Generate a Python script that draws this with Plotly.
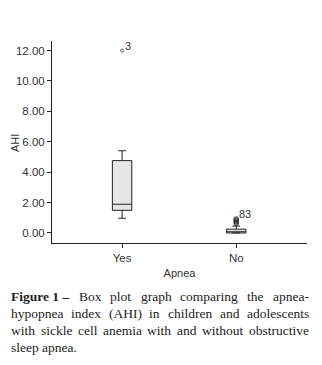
import plotly.graph_objects as go

# Summary statistics of AHI per apnea group
groups = ["Yes", "No"]
group_pos = [1, 2]
q1 = [1.49, 0.0]
median = [1.89, 0.08]
q3 = [4.76, 0.25]
lower_fence = [0.97, 0.0]
upper_fence = [5.41, 0.45]

# Outliers (value, group position, case label)
outlier_vals = [12.0, 0.62, 0.72, 0.82, 0.92]
outlier_pos = [1, 2, 2, 2, 2]
outlier_labels = ["3", "", "", "", "83"]

y_ticks = [0, 2, 4, 6, 8, 10, 12]
y_ticktext = ["0.00", "2.00", "4.00", "6.00", "8.00", "10.00", "12.00"]

caption_lines = [
    ["<b>Figure 1 –</b>", "Box", "plot", "graph", "comparing", "the", "apnea-"],
    ["hypopnea", "index", "(AHI)", "in", "children", "and", "adolescents"],
    ["with", "sickle", "cell", "anemia", "with", "and", "without", "obstructive"],
    ["sleep", "apnea."],
]

# Figure / margin geometry in pixels
W, H = 322, 365
ML, MR, MT, MB = 52, 15, 41, 122
PW, PH = W - ML - MR, H - MT - MB

# Approximate Times-style advance widths (per 1000 em) for justifying the caption
TW = {" ": 250, "a": 444, "b": 500, "c": 444, "d": 500, "e": 444, "f": 333, "g": 500,
      "h": 500, "i": 278, "j": 278, "k": 500, "l": 278, "m": 778, "n": 500, "o": 500,
      "p": 500, "q": 500, "r": 333, "s": 389, "t": 278, "u": 500, "v": 500, "w": 722,
      "x": 500, "y": 500, "z": 444, "A": 722, "B": 667, "F": 556, "H": 722, "I": 333,
      "(": 333, ")": 333, "-": 333, ".": 250, "1": 500, "–": 500}
BOLD = {"F": 611, "u": 556, "r": 444}


def word_width(word, size):
    bold = word.startswith("<b>")
    txt = word.replace("<b>", "").replace("</b>", "")
    total = 0
    for ch in txt:
        total += (BOLD.get(ch, TW.get(ch, 500)) if bold else TW.get(ch, 500))
    return total * size / 1000.0


fig = go.Figure()
fig.add_trace(go.Box(
    x=group_pos, q1=q1, median=median, q3=q3,
    lowerfence=lower_fence, upperfence=upper_fence,
    width=0.17, whiskerwidth=0.4,
    fillcolor="#e6e6e8", line=dict(color="#222222", width=1),
    boxpoints=False, hoverinfo="skip", showlegend=False,
))
fig.add_trace(go.Scatter(
    x=outlier_pos, y=outlier_vals, mode="markers",
    marker=dict(symbol="circle-open", size=[3, 4, 4, 4, 4], color="#222222",
                line=dict(width=[1, 1.5, 1.5, 1.5, 1.5])),
    showlegend=False, hoverinfo="skip",
))
for xv, yv, lab in zip(outlier_pos, outlier_vals, outlier_labels):
    if lab:
        fig.add_annotation(x=xv, y=yv, text=lab, showarrow=False,
                           xanchor="left", yanchor="bottom", xshift=1, yshift=-3,
                           font=dict(family="Liberation Sans", size=11, color="#333333"))

axis_font = dict(family="Liberation Sans", size=11, color="#333333")
tick_font = dict(family="Liberation Sans", size=11.5, color="#333333")
fig.update_xaxes(
    range=[0.386, 2.62], tickvals=group_pos, ticktext=groups,
    showline=True, linecolor="#222222", linewidth=1,
    ticks="outside", ticklen=4, tickcolor="#222222",
    showgrid=False, zeroline=False, tickfont=tick_font, automargin=False,
    title=dict(text="Apnea", font=axis_font, standoff=6),
)
fig.update_yaxes(
    range=[-0.66, 12.63], tickvals=y_ticks, ticktext=y_ticktext,
    showline=True, linecolor="#222222", linewidth=1,
    ticks="outside", ticklen=4, tickcolor="#222222",
    showgrid=False, zeroline=False, tickfont=tick_font, automargin=False,
)

# Vertical y-axis title
fig.add_annotation(
    xref="paper", yref="paper", x=(15 - ML) / PW, y=(H - MB - 143) / PH,
    xanchor="center", yanchor="middle", text="AHI", textangle=-90,
    showarrow=False, font=axis_font,
)

# Justified caption below the chart
cap_size = 13.5
cap_left, cap_right = 11, 309
line_y0, line_gap = 296, 17
cap_font = dict(family="Liberation Serif", size=cap_size, color="#222222")
for i, words in enumerate(caption_lines):
    widths = [word_width(w, cap_size) for w in words]
    last = i == len(caption_lines) - 1
    if last or len(words) == 1:
        gap = 0.25 * cap_size
    else:
        gap = (cap_right - cap_left - sum(widths)) / (len(words) - 1)
    px = cap_left
    py = line_y0 + line_gap * i
    for w, ww in zip(words, widths):
        fig.add_annotation(
            xref="paper", yref="paper",
            x=(px - ML) / PW, y=(H - MB - py) / PH,
            xanchor="left", yanchor="middle", text=w, showarrow=False,
            borderpad=0, borderwidth=0, font=cap_font,
        )
        px += ww + gap

fig.update_layout(
    width=W, height=H,
    margin=dict(l=ML, r=MR, t=MT, b=MB),
    paper_bgcolor="white", plot_bgcolor="white",
)

fig.write_html("out.html")
